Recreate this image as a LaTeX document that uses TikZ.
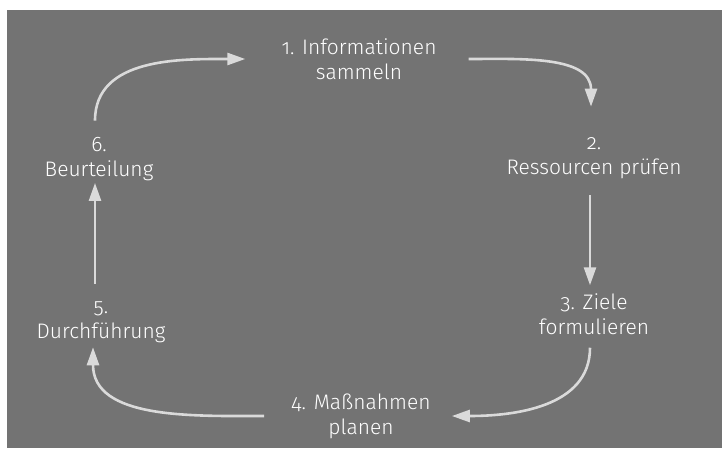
\documentclass[tikz,border=0pt]{standalone}
\usepackage{fontspec}
\setmainfont{Fira Sans}[UprightFont=* Light, Numbers=OldStyle]
\usetikzlibrary{arrows.meta}
\definecolor{bggrey}{RGB}{115,115,115}
\definecolor{arrowgrey}{RGB}{218,218,218}

\begin{document}
\begin{tikzpicture}[
    x=1pt, y=-1pt,
    phase/.style={text=white, align=center, inner sep=0pt, font=\fontsize{21}{25}\selectfont},
    arrow/.style={-{Triangle[length=18pt, width=12pt]}, draw=arrowgrey, line width=2.6pt}
]
    \useasboundingbox (0,0) rectangle (722,448);
    \fill[bggrey] (7,10) rectangle (722,448);

    \node[phase] (n1) at (359,59) {1. Informationen\\sammeln};
    \node[phase] (n2) at (594,158.5) {2.\\Ressourcen prüfen};
    \node[phase] (n3) at (594,314) {3. Ziele\\formulieren};
    \node[phase] (n4) at (361,416) {4. Maßnahmen\\planen};
    \node[phase] (n5) at (101,322.5) {5.\\Durchführung};
    \node[phase] (n6) at (99,159) {6.\\Beurteilung};

    \draw[arrow] ([xshift=32pt]n1.east) to[out=0, in=90] ([xshift=-3pt, yshift=31pt]n2.north);
    \draw[arrow] ([xshift=-4pt, yshift=-16pt]n2.south) -- ([xshift=-4pt, yshift=8pt]n3.north);
    \draw[arrow] ([xshift=-4pt, yshift=-13pt]n3.south) to[out=-90, in=0] ([xshift=21pt]n4.east);
    \draw[arrow] ([xshift=-27pt]n4.west) to[out=180, in=-90] ([xshift=-8pt, yshift=-4pt]n5.south);
    \draw[arrow] ([xshift=-6pt, yshift=18pt]n5.north) -- ([xshift=-4pt, yshift=-2pt]n6.south);
    \draw[arrow] ([xshift=-4pt, yshift=16.5pt]n6.north) to[out=90, in=180] ([xshift=-36pt]n1.west);
\end{tikzpicture}
\end{document}
